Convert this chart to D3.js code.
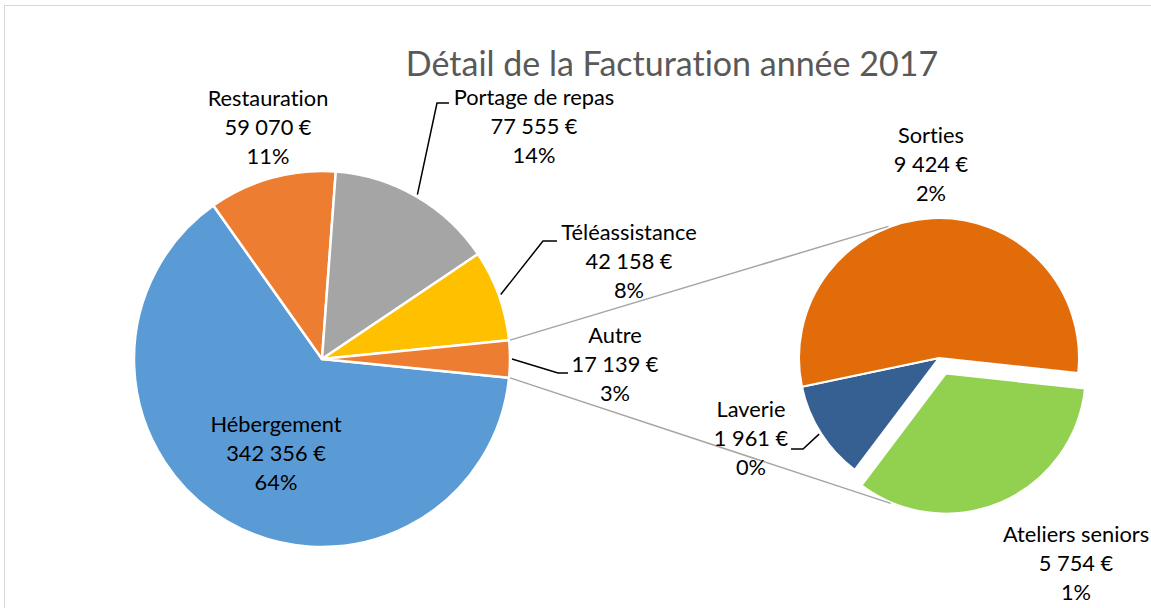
<!DOCTYPE html>
<html><head><meta charset="utf-8">
<script src="https://cdn.jsdelivr.net/npm/d3@7"></script>
<style>
html,body{margin:0;padding:0;background:#fff;}
svg{display:block;}
text{font-family:Lato,"Open Sans",sans-serif;font-variant-ligatures:none;}
</style></head>
<body>
<svg id="chart" width="1151" height="608"></svg>
<script>
// ---- data ----
const title = "Détail de la Facturation année 2017";
const mainCategories = ["Hébergement","Restauration","Portage de repas","Téléassistance","Autre"];
const mainValues = [342356, 59070, 77555, 42158, 17139];
const mainColors = ["#5B9BD5","#ED7D31","#A5A5A5","#FFC000","#ED7D31"];
const subCategories = ["Laverie","Sorties","Ateliers seniors"];
const subValues = [1961, 9424, 5754];
const subColors = ["#376092","#E36C0A","#92D050"];

// ---- layout ----
const W = 1151, H = 608;
const main = {cx:322, cy:359, r:188};
const sub = {cx:939, cy:358, r:140, start:217*Math.PI/180, explode:17};
const labelFont = 21.8, lineH = 29;
// label anchor: [centre x, first baseline y]
const labelPos = {
  "Hébergement":[276,432],
  "Restauration":[268,106],
  "Portage de repas":[534,105],
  "Téléassistance":[629,240],
  "Autre":[615,343],
  "Laverie":[751,417],
  "Sorties":[931,143],
  "Ateliers seniors":[1076,542]
};
// leader elbow points (elbow, end)
const leaders = {
  "Portage de repas":[[437,103],[449,103]],
  "Téléassistance":[[543,241],[557,241]],
  "Autre":[[558,373],[568,373]],
  "Laverie":[[803,449],[791,449]]
};

const svg = d3.select("#chart");
const total = d3.sum(mainValues);
const locale = d3.formatLocale({decimal:",", thousands:" ", grouping:[3], currency:[""," €"]});
const fmtEuro = v => locale.format(",.0f")(v) + " €";
const fmtPct = v => Math.round(v/total*100) + "%";

// frame
svg.append("rect").attr("x",4.5).attr("y",5.5).attr("width",W+10).attr("height",H+10)
  .attr("fill","none").attr("stroke","#D9D9D9").attr("stroke-width",1);

// title
svg.append("text").attr("x",672).attr("y",76).attr("text-anchor","middle")
  .attr("font-size",34).attr("fill","#595959").text(title);

// ---- main pie ----
const autreAngle = 2*Math.PI*mainValues[4]/total;
const mStart = Math.PI/2 + autreAngle/2;
const pieM = d3.pie().sort(null).value(d=>d.v).startAngle(mStart).endAngle(mStart+2*Math.PI);
const mData = pieM(mainCategories.map((c,i)=>({cat:c, v:mainValues[i], color:mainColors[i]})));
const arcM = d3.arc().innerRadius(0).outerRadius(main.r);
const gM = svg.append("g").attr("transform",`translate(${main.cx},${main.cy})`);
gM.selectAll("path").data(mData).join("path")
  .attr("d",arcM).attr("fill",d=>d.data.color)
  .attr("stroke","#fff").attr("stroke-width",2.5).attr("stroke-linejoin","round");

// ---- sub pie ----
const pieS = d3.pie().sort(null).value(d=>d.v).startAngle(sub.start).endAngle(sub.start+2*Math.PI);
const sData = pieS(subCategories.map((c,i)=>({cat:c, v:subValues[i], color:subColors[i]})));
const arcS = d3.arc().innerRadius(0).outerRadius(sub.r);
const gS = svg.append("g").attr("transform",`translate(${sub.cx},${sub.cy})`);
function explodeOffset(d){
  if(d.data.cat!=="Ateliers seniors") return [0,0];
  const a=(d.startAngle+d.endAngle)/2;
  return [sub.explode*Math.sin(a), -sub.explode*Math.cos(a)];
}
gS.selectAll("path").data(sData).join("path")
  .attr("d",arcS).attr("fill",d=>d.data.color)
  .attr("transform",d=>{const o=explodeOffset(d);return `translate(${o[0]},${o[1]})`;})
  .attr("stroke","#fff").attr("stroke-width",2).attr("stroke-linejoin","round");

// ---- connector lines ----
const autre = mData[4];
function pt(cx,cy,r,a){return [cx+r*Math.sin(a), cy-r*Math.cos(a)];}
const p1 = pt(main.cx,main.cy,main.r+1,autre.startAngle);
const p2 = pt(main.cx,main.cy,main.r+1,autre.endAngle);
const atel = sData.find(d=>d.data.cat==="Ateliers seniors");
const off = explodeOffset(atel);
const q1 = pt(sub.cx,sub.cy,sub.r+1,339*Math.PI/180);
const q2 = pt(sub.cx+off[0],sub.cy+off[1],sub.r+1,203*Math.PI/180);
svg.append("line").attr("x1",p1[0]).attr("y1",p1[1]).attr("x2",q1[0]).attr("y2",q1[1])
  .attr("stroke","#A5A5A5").attr("stroke-width",1.5);
svg.append("line").attr("x1",p2[0]).attr("y1",p2[1]).attr("x2",q2[0]).attr("y2",q2[1])
  .attr("stroke","#A5A5A5").attr("stroke-width",1.5);

// ---- leader lines ----
function leader(d,cx,cy,r,pts){
  const a=(d.startAngle+d.endAngle)/2;
  const s=pt(cx,cy,r+2,a);
  svg.append("polyline").attr("points",[s].concat(pts).map(p=>p.join(",")).join(" "))
    .attr("fill","none").attr("stroke","#000").attr("stroke-width",1.5);
}
mData.forEach(d=>{ if(leaders[d.data.cat]) leader(d,main.cx,main.cy,main.r,leaders[d.data.cat]); });
sData.forEach(d=>{ if(leaders[d.data.cat]) leader(d,sub.cx,sub.cy,sub.r,leaders[d.data.cat]); });

// ---- labels ----
function label(cat,v){
  const [x,y]=labelPos[cat];
  const t=svg.append("text").attr("text-anchor","middle").attr("font-size",labelFont).attr("fill","#000");
  [cat, fmtEuro(v), fmtPct(v)].forEach((s,i)=>{
    t.append("tspan").attr("x",x).attr("y",y+i*lineH).text(s);
  });
}
mData.forEach(d=>label(d.data.cat,d.data.v));
sData.forEach(d=>label(d.data.cat,d.data.v));
</script>
</body></html>
